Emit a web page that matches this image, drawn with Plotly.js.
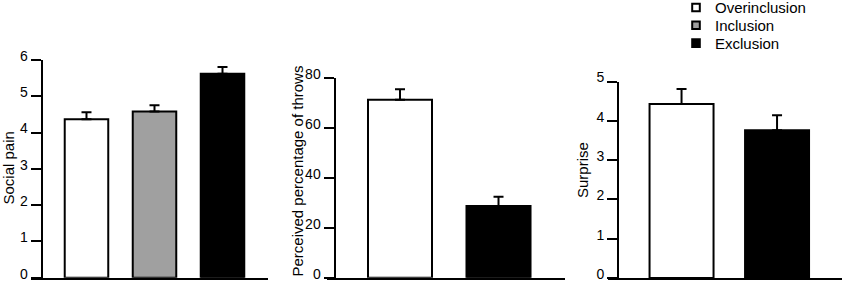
<!DOCTYPE html>
<html>
<head>
<meta charset="utf-8">
<script src="https://cdn.plot.ly/plotly-3.0.1.min.js"></script>
<style>html,body{margin:0;padding:0;background:#fff}#chart{width:843px;height:284px}</style>
</head>
<body>
<div id="chart"></div>
<script>
// ---- data ----
const conditions = ["Overinclusion", "Inclusion", "Exclusion"];
const conditionColors = ["#ffffff", "#a0a0a0", "#000000"];

// Panel 1: Social pain (all three conditions)
const socialPainMean = [4.37, 4.58, 5.62];
const socialPainSEM  = [0.19, 0.17, 0.19];

// Panel 2: Perceived percentage of throws (Overinclusion, Exclusion)
const throwsConditions = ["Overinclusion", "Exclusion"];
const throwsMean = [71.2, 28.7];
const throwsSEM  = [4.2, 3.7];

// Panel 3: Surprise (Overinclusion, Exclusion)
const surpriseConditions = ["Overinclusion", "Exclusion"];
const surpriseMean = [4.43, 3.76];
const surpriseSEM  = [0.38, 0.38];

const yTitles = ["Social pain", "Perceived percentage of throws", "Surprise"];

// ---- build ----
const W = 843, H = 284;
const px = v => v / W;
const py = v => (H - v) / H;
const FONT = "Liberation Sans, Arial, sans-serif";

function barTrace(name, xval, yval, err, color, xa, ya, width) {
  return {
    type: "bar", name: name, x: [xval], y: [yval],
    xaxis: xa, yaxis: ya, width: width, showlegend: false,
    marker: {color: color, line: {color: "#000", width: 2}},
    error_y: {type: "data", symmetric: false, array: [err], arrayminus: [0],
              color: "#000", thickness: 2, width: 5},
    hoverinfo: "skip"
  };
}

const traces = [];
conditions.forEach((c, i) => {
  traces.push(barTrace(c, c, socialPainMean[i], socialPainSEM[i], conditionColors[i], "x", "y", 0.64));
});
throwsConditions.forEach((c, i) => {
  const ci = conditions.indexOf(c);
  traces.push(barTrace(c, c, throwsMean[i], throwsSEM[i], conditionColors[ci], "x2", "y2", 0.65));
});
surpriseConditions.forEach((c, i) => {
  const ci = conditions.indexOf(c);
  traces.push(barTrace(c, c, surpriseMean[i], surpriseSEM[i], conditionColors[ci], "x3", "y3", 0.67));
});

function xAxis(dom, range, cats, yanchor) {
  return {domain: dom, range: range, type: "category", categoryorder: "array", categoryarray: cats,
          showline: true, linecolor: "#000", linewidth: 2, ticks: "", showticklabels: false,
          showgrid: false, zeroline: false, anchor: yanchor, fixedrange: true};
}
function yAxis(dom, range, dtick, pos) {
  return {domain: dom, range: range, dtick: dtick, anchor: "free", position: pos,
          showline: true, linecolor: "#000", linewidth: 2, ticks: "outside", ticklen: 10,
          tickwidth: 2, tickcolor: "#000", showgrid: false, zeroline: false,
          ticklabeloverflow: "allow", ticklabelshift: -4,
          tickfont: {family: FONT, size: 14, color: "#000"},
          fixedrange: true};
}

const shapes = [], annotations = [];

// Y-axis titles (rotated text beside each axis)
const titleX = [7.5, 297, 582];
const titleY = [168, 171.5, 170];
yTitles.forEach((t, i) => {
  annotations.push({xref: "paper", yref: "paper", x: px(titleX[i]), y: py(titleY[i]),
                    xanchor: "center", yanchor: "middle", textangle: -90, showarrow: false,
                    text: t, font: {family: FONT, size: 15, color: "#000"}});
});

// Legend key in the top-right corner
const legendX = 696, legendY0 = 7.5, legendStep = 17.8, boxHalf = 3.8;
conditions.forEach((c, i) => {
  const yc = legendY0 + i * legendStep;
  shapes.push({type: "rect", xref: "paper", yref: "paper",
               x0: px(legendX - boxHalf), x1: px(legendX + boxHalf),
               y0: py(yc + boxHalf), y1: py(yc - boxHalf),
               fillcolor: conditionColors[i], line: {color: "#000", width: 2}});
  annotations.push({xref: "paper", yref: "paper", x: px(713), y: py(yc),
                    xanchor: "left", yanchor: "middle", showarrow: false, text: c,
                    font: {family: FONT, size: 15, color: "#000"}});
});

const layout = {
  width: W, height: H,
  margin: {l: 0, r: 0, t: 0, b: 0},
  paper_bgcolor: "#fff", plot_bgcolor: "rgba(0,0,0,0)",
  barmode: "overlay",
  showlegend: false,
  shapes: shapes,
  annotations: annotations,
  xaxis:  xAxis([px(31), px(268)], [-0.816, 2.669], conditions, "y"),
  yaxis:  yAxis([py(277.7), py(60)], [0, 6], 1, px(41.5)),
  xaxis2: xAxis([px(327), px(565)], [-0.741, 1.675], throwsConditions, "y2"),
  yaxis2: yAxis([py(277.7), py(77.7)], [0, 80], 20, px(334.5)),
  xaxis3: xAxis([px(608), px(842)], [-0.77, 1.68], surpriseConditions, "y3"),
  yaxis3: yAxis([py(278), py(81.5)], [0, 5], 1, px(618))
};

Plotly.newPlot("chart", traces, layout, {displayModeBar: false, staticPlot: true});
</script>
</body>
</html>
